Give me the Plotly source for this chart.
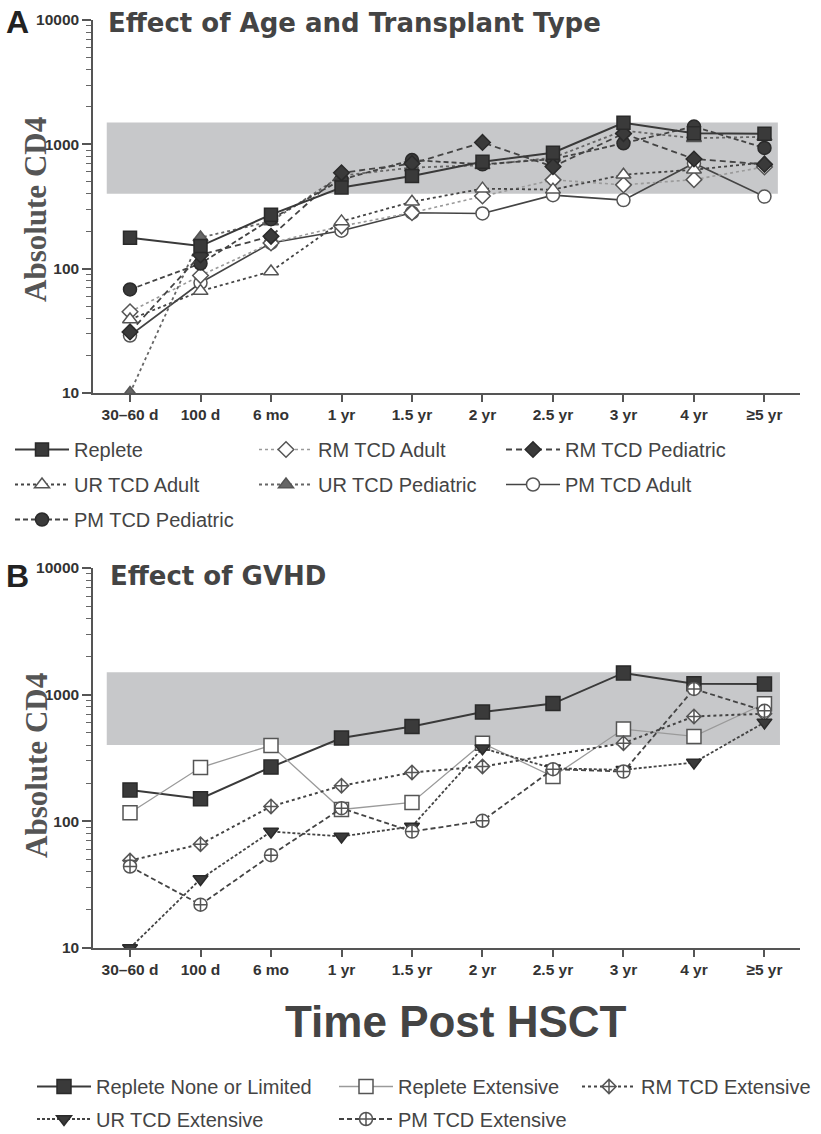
import plotly.graph_objects as go

# ---------------- data ----------------
categories = ["30–60 d", "100 d", "6 mo", "1 yr", "1.5 yr", "2 yr", "2.5 yr", "3 yr", "4 yr", "≥5 yr"]
y_tick_vals = [10, 100, 1000, 10000]
y_tick_text = ["10", "100", "1000", "10000"]
normal_range = [400, 1500]

# Panel A – Effect of Age and Transplant Type
replete = [177, 152, 272, 450, 556, 725, 855, 1490, 1230, 1215]
rm_tcd_adult = [45, 88, 161, 220, 282, 384, 518, 472, 520, 658]
rm_tcd_pediatric = [31, 129, 182, 590, 700, 1035, 662, 1220, 762, 690]
ur_tcd_adult = [39, 66, 95, 240, 345, 440, 432, 570, 625, 715]
ur_tcd_pediatric = [10, 178, 240, 560, 650, 680, 780, 1290, 1120, 1150]
pm_tcd_adult = [29, 77, 161, 202, 282, 278, 390, 356, 705, 380]
pm_tcd_pediatric = [68, 110, 250, 520, 748, 690, 760, 1020, 1390, 935]

# Panel B – Effect of GVHD
replete_none_limited = [177, 151, 268, 455, 560, 730, 850, 1485, 1222, 1214]
replete_extensive = [117, 266, 397, 124, 141, 414, 226, 535, 468, 849]
rm_tcd_extensive = [49, 66, 131, 191, 243, 271, None, 414, 673, 708]
ur_tcd_extensive = [10, 35, 83, 76, 91, 378, 262, 255, 291, 604]
pm_tcd_extensive = [44, 22, 54, 127, 83, 101, 258, 247, 1109, 745]

# ---------------- layout helpers ----------------
W, H = 821, 1134
def fx(p):
    return p / W
def fy(p):
    return 1 - p / H

DARK = "#3a3a3a"
LEG_FONT = dict(family="Liberation Sans, Arial, sans-serif", size=20, color="#444")

fig = go.Figure()

def add(name, y, xa, ya, legend, rank, symbol, size, fill, edge, lcolor, dash, lwidth):
    fig.add_trace(go.Scatter(
        x=categories, y=y, name=name, mode="lines+markers",
        xaxis=xa, yaxis=ya, legend=legend, legendgroup=name, legendrank=rank,
        connectgaps=True,
        line=dict(color=lcolor, dash=dash, width=lwidth),
        marker=dict(symbol=symbol, size=size, color=fill,
                    line=dict(color=edge, width=1.5)),
        hoverinfo="x+y+name",
    ))

# Panel A traces (drawing order: open markers beneath, filled on top)
add("PM TCD Adult", pm_tcd_adult, "x", "y", "legend3", 2, "circle", 13, "white", "#555", "#444", "solid", 1.6)
add("RM TCD Adult", rm_tcd_adult, "x", "y", "legend2", 1, "diamond", 12, "white", "#555", "#9a9a9a", "dot", 1.6)
add("UR TCD Adult", ur_tcd_adult, "x", "y", "legend", 2, "triangle-up", 13, "white", "#555", "#444", "dot", 1.8)
add("UR TCD Pediatric", ur_tcd_pediatric, "x", "y", "legend2", 2, "triangle-up", 13, "#666", "#555", "#666", "dot", 1.8)
add("PM TCD Pediatric", pm_tcd_pediatric, "x", "y", "legend", 3, "circle", 13, DARK, "#2a2a2a", "#444", "5px,3px", 1.8)
add("RM TCD Pediatric", rm_tcd_pediatric, "x", "y", "legend3", 1, "diamond", 12, DARK, "#2a2a2a", "#444", "6px,4px", 1.8)
add("Replete", replete, "x", "y", "legend", 1, "square", 13, DARK, "#2a2a2a", DARK, "solid", 2)

# Panel B traces
add("Replete None or Limited", replete_none_limited, "x2", "y2", "legend4", 1, "square", 14, DARK, "#2a2a2a", DARK, "solid", 2)
add("Replete Extensive", replete_extensive, "x2", "y2", "legend5", 1, "square", 14, "white", "#555", "#9a9a9a", "solid", 1.3)
add("RM TCD Extensive", rm_tcd_extensive, "x2", "y2", "legend6", 1, "diamond-cross", 11, "white", "#555", "#444", "dot", 2)
add("UR TCD Extensive", ur_tcd_extensive, "x2", "y2", "legend4", 2, "triangle-down", 13, DARK, "#2a2a2a", "#444", "3px,2px", 1.8)
add("PM TCD Extensive", pm_tcd_extensive, "x2", "y2", "legend5", 2, "circle-cross", 13, "white", "#555", "#444", "5px,3px", 1.8)

# normal range bands
for xr, yr, x1 in (("x", "y", 9.19), ("x2", "y2", 9.22)):
    fig.add_shape(type="rect", xref=xr, yref=yr, x0=-0.33, x1=x1,
                  y0=normal_range[0], y1=normal_range[1],
                  fillcolor="#c7c8ca", line=dict(width=0), layer="below")

TICKFONT = dict(family="Liberation Sans, Arial, sans-serif", size=15.5, color="#333", weight="bold")
xcommon = dict(type="category", range=[-0.525, 9.504], showline=True, linecolor="#555",
               linewidth=1.5, ticks="outside", ticklen=7, tickcolor="#555", tickwidth=1.5,
               showgrid=False, zeroline=False, tickfont=TICKFONT, fixedrange=True)
ycommon = dict(type="log", range=[1, 4], showline=True, linecolor="#555", linewidth=1.5,
               ticks="outside", ticklen=9, tickcolor="#555", tickwidth=1.5,
               tickvals=y_tick_vals, ticktext=y_tick_text,
               minor=dict(ticks="outside", ticklen=5, tickcolor="#666", tickwidth=1,
                          tickvals=[m * 10 ** e for e in (1, 2, 3) for m in range(2, 10)]),
               showgrid=False, zeroline=False, tickfont=TICKFONT, fixedrange=True)

fig.update_layout(
    width=W, height=H,
    margin=dict(l=0, r=0, t=0, b=0, autoexpand=False),
    paper_bgcolor="white", plot_bgcolor="white",
    xaxis=dict(xcommon, domain=[fx(93), fx(800)], anchor="y"),
    yaxis=dict(ycommon, domain=[fy(393), fy(20)], anchor="x"),
    xaxis2=dict(xcommon, domain=[fx(93), fx(800)], anchor="y2"),
    yaxis2=dict(ycommon, domain=[fy(948), fy(568)], anchor="x2"),
)

def leg(xp, yp, gap):
    return dict(x=fx(xp), y=fy(yp), xanchor="left", yanchor="top", orientation="v",
                font=LEG_FONT, bgcolor="rgba(0,0,0,0)", itemwidth=54,
                tracegroupgap=gap, traceorder="grouped", itemclick=False, itemdoubleclick=False)

fig.update_layout(
    legend=leg(10, 430, 6),
    legend2=leg(254, 430, 6),
    legend3=leg(501, 430, 6),
    legend4=leg(32, 1067, 3.5),
    legend5=leg(334, 1067, 3.5),
    legend6=leg(577, 1067, 3.5),
)

annots = [
    dict(text="A", x=fx(4), y=fy(22), font=dict(family="Liberation Sans, Arial", size=32, color="#222", weight="bold")),
    dict(text="Effect of Age and Transplant Type", x=fx(106), y=fy(23),
         font=dict(family="DejaVu Sans", size=26, color="#444", weight="bold")),
    dict(text="B", x=fx(4), y=fy(576), font=dict(family="Liberation Sans, Arial", size=32, color="#222", weight="bold")),
    dict(text="Effect of GVHD", x=fx(108), y=fy(576),
         font=dict(family="DejaVu Sans", size=26, color="#444", weight="bold")),
]
for a in annots:
    fig.add_annotation(xref="paper", yref="paper", xanchor="left", yanchor="middle",
                       showarrow=False, **a)

for yc in (210, 766):
    fig.add_annotation(text="Absolute CD4", xref="paper", yref="paper", x=fx(36), y=fy(yc),
                       xanchor="center", yanchor="middle", textangle=-90, showarrow=False,
                       font=dict(family="Liberation Serif, Times New Roman, serif", size=31,
                                 color="#555", weight="bold"))

fig.add_annotation(text="Time Post HSCT", xref="paper", yref="paper", x=fx(456), y=fy(1021),
                   xanchor="center", yanchor="middle", showarrow=False,
                   font=dict(family="Liberation Sans, Arial", size=44, color="#444", weight="bold"))

fig.write_html("out.html")
